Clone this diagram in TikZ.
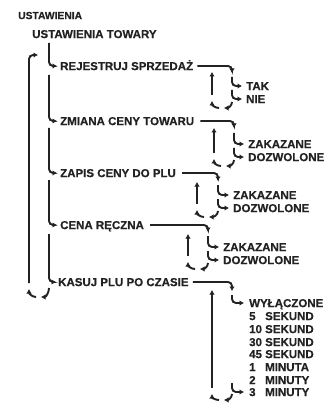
\documentclass[tikz,border=0pt]{standalone}
\usepackage{fontspec}
\setmainfont{Liberation Sans}
\newfontfamily\menufont{Liberation Sans Bold}[FakeBold=0.6]
\usetikzlibrary{arrows.meta, positioning, calc}
\definecolor{menuink}{HTML}{222222}

\begin{document}
\begin{tikzpicture}[
  x=1pt, y=-1pt,
  entry/.style={
    anchor=west, inner sep=0pt, text height=8.2pt, text depth=0pt,
    font=\menufont\fontsize{11.5}{12}\selectfont, text=menuink
  },
  flow/.style={
    draw=menuink, line width=1.9pt, rounded corners=4pt,
    -{Latex[length=4.5pt,width=5.5pt]}
  }
]
  \useasboundingbox (0,0) rectangle (329,403);

  % Main menu
  \node[entry, font=\menufont\fontsize{10.3}{11}\selectfont] (settings) at (18,15) {USTAWIENIA};
  \node[entry] (goods) at (32,34) {USTAWIENIA TOWARY};
  \node[entry] (sale) at (60,66) {REJESTRUJ SPRZEDAŻ};
  \node[entry] (price) at (60,121) {ZMIANA CENY TOWARU};
  \node[entry] (plu) at (60,173) {ZAPIS CENY DO PLU};
  \node[entry] (manual) at (60,225) {CENA RĘCZNA};
  \node[entry] (clear) at (58,282) {KASUJ PLU PO CZASIE};

  \coordinate (spine) at (49,43);
  \draw[flow] (spine) |- ($(sale.west)+(-3,0)$);
  \draw[flow] ($(sale.west -| spine)+(0,9)$) |- ($(price.west)+(-3,0)$);
  \draw[flow] ($(price.west -| spine)+(0,7)$) |- ($(plu.west)+(-3,0)$);
  \draw[flow] ($(plu.west -| spine)+(0,7)$) |- ($(manual.west)+(-3,0)$);
  \draw[flow] ($(manual.west -| spine)+(0,9)$) |- ($(clear.west)+(-2,0)$);

  % Back to the top
  \coordinate (spineback) at (29,289);
  \draw[flow] ($(clear.west -| spine)+(0,6)$) to[out=-90,in=0] ($(spineback)+(12,8)$);
  \draw[flow] ($(spineback)+(7,8)$) to[out=180,in=-90] (spineback);
  \draw[flow] ($(spineback)+(0,-6)$) |- ($(sale.west -| spine)+(-11,-11)$);

  % REJESTRUJ SPRZEDAŻ
  \node[entry] (yes) at (246,86) {TAK};
  \node[entry] (no) at (246,99) {NIE};
  \coordinate (saledown) at (232,73);
  \coordinate (saleback) at (212,101);
  \draw[flow] ($(sale.east)+(4,0)$) -| (saledown);
  \draw[flow] ($(yes.west -| saledown)+(0,-9)$) |- ($(yes.west)+(-4,0)$);
  \draw[flow] ($(no.west -| saledown)+(0,-9)$) |- ($(no.west)+(-4,0)$);
  \draw[flow] ($(no.west -| saledown)+(0,3)$) to[out=-90,in=0] ($(saleback)+(12,7)$);
  \draw[flow] ($(saleback)+(7,7)$) to[out=180,in=-90] (saleback);
  \draw[flow] ($(saleback)+(0,-6)$) -- ($(saleback |- sale.east)+(0,6)$);

  % ZMIANA CENY TOWARU
  \node[entry] (pricedeny) at (248,144) {ZAKAZANE};
  \node[entry] (priceallow) at (248,157) {DOZWOLONE};
  \coordinate (pricedown) at (234,128);
  \coordinate (priceback) at (214,159);
  \draw[flow] ($(price.east)+(6,0)$) -| (pricedown);
  \draw[flow] ($(pricedeny.west -| pricedown)+(0,-11)$) |- ($(pricedeny.west)+(-4,0)$);
  \draw[flow] ($(priceallow.west -| pricedown)+(0,-9)$) |- ($(priceallow.west)+(-4,0)$);
  \draw[flow] ($(priceallow.west -| pricedown)+(0,3)$) to[out=-90,in=0] ($(priceback)+(12,7)$);
  \draw[flow] ($(priceback)+(7,7)$) to[out=180,in=-90] (priceback);
  \draw[flow] ($(priceback)+(0,-6)$) -- ($(priceback |- price.east)+(0,7)$);

  % ZAPIS CENY DO PLU
  \node[entry] (pludeny) at (233,195) {ZAKAZANE};
  \node[entry] (pluallow) at (233,208) {DOZWOLONE};
  \coordinate (pludown) at (218,181);
  \coordinate (pluback) at (197,210);
  \draw[flow] ($(plu.east)+(6,0)$) -| (pludown);
  \draw[flow] ($(pludeny.west -| pludown)+(0,-10)$) |- ($(pludeny.west)+(-4,0)$);
  \draw[flow] ($(pluallow.west -| pludown)+(0,-9)$) |- ($(pluallow.west)+(-4,0)$);
  \draw[flow] ($(pluallow.west -| pludown)+(0,3)$) to[out=-90,in=0] ($(pluback)+(12,7)$);
  \draw[flow] ($(pluback)+(7,7)$) to[out=180,in=-90] (pluback);
  \draw[flow] ($(pluback)+(0,-6)$) -- ($(pluback |- plu.east)+(0,9)$);

  % CENA RĘCZNA
  \node[entry] (manualdeny) at (223,247) {ZAKAZANE};
  \node[entry] (manualallow) at (223,260) {DOZWOLONE};
  \coordinate (manualdown) at (208,232);
  \coordinate (manualback) at (188,262);
  \draw[flow] ($(manual.east)+(6,0)$) -| (manualdown);
  \draw[flow] ($(manualdeny.west -| manualdown)+(0,-11)$) |- ($(manualdeny.west)+(-4,0)$);
  \draw[flow] ($(manualallow.west -| manualdown)+(0,-9)$) |- ($(manualallow.west)+(-4,0)$);
  \draw[flow] ($(manualallow.west -| manualdown)+(0,3)$) to[out=-90,in=0] ($(manualback)+(12,7)$);
  \draw[flow] ($(manualback)+(7,7)$) to[out=180,in=-90] (manualback);
  \draw[flow] ($(manualback)+(0,-6)$) -- ($(manualback |- manual.east)+(0,9)$);

  % KASUJ PLU PO CZASIE
  \node[entry] (off) at (249,303) {WYŁĄCZONE};
  \node[entry] (sec5) at (249,316) {\makebox[16pt][l]{5}SEKUND};
  \node[entry] (sec10) at (249,329) {\makebox[16pt][l]{10}SEKUND};
  \node[entry] (sec30) at (249,342) {\makebox[16pt][l]{30}SEKUND};
  \node[entry] (sec45) at (249,354) {\makebox[16pt][l]{45}SEKUND};
  \node[entry] (min1) at (249,367) {\makebox[16pt][l]{1}MINUTA};
  \node[entry] (min2) at (249,380) {\makebox[16pt][l]{2}MINUTY};
  \node[entry] (min3) at (249,392) {\makebox[16pt][l]{3}MINUTY};
  \coordinate (cleardown) at (232,291);
  \coordinate (clearback) at (212,394);
  \draw[flow] ($(clear.east)+(4,0)$) -| (cleardown);
  \draw[flow] ($(off.west -| cleardown)+(0,-8)$) |- ($(off.west)+(-5,0)$);
  \draw[flow] ($(min3.west -| cleardown)+(0,-9)$) |- ($(min3.west)+(-5,0)$);
  \draw[flow] ($(min3.west -| cleardown)+(0,2)$) to[out=-90,in=0] ($(clearback)+(12,6)$);
  \draw[flow] ($(clearback)+(7,6)$) to[out=180,in=-90] (clearback);
  \draw[flow] ($(clearback)+(0,-6)$) -- ($(clearback |- clear.east)+(0,8)$);
\end{tikzpicture}
\end{document}
